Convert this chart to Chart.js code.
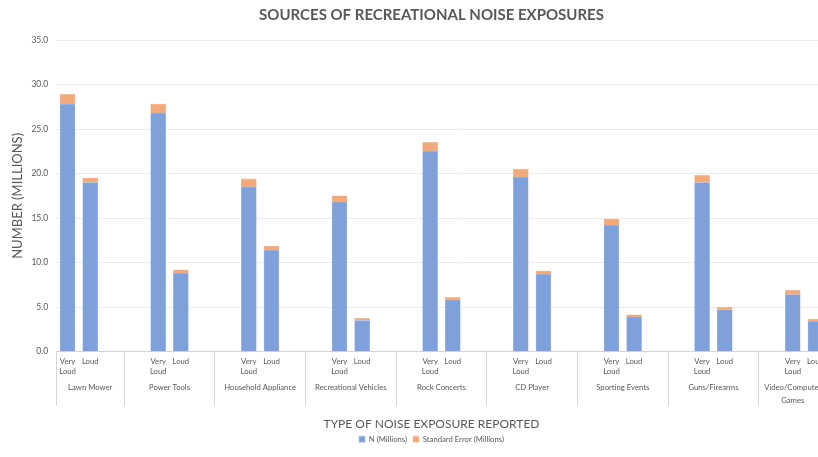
<!DOCTYPE html>
<html>
<head>
<meta charset="utf-8">
<script src="https://cdn.jsdelivr.net/npm/chart.js@4.4.1/dist/chart.umd.min.js"></script>
<style>
  html, body { margin: 0; padding: 0; background: #ffffff; overflow: hidden; }
  #wrap { position: relative; width: 863px; height: 457px; }
</style>
</head>
<body>
<div id="wrap"><canvas id="c"></canvas></div>
<script>
// ---- data ----
const groups = ['Lawn Mower', 'Power Tools', 'Household Appliance', 'Recreational Vehicles',
  'Rock Concerts', 'CD Player', 'Sporting Events', 'Guns/Firearms', ['Video/Computer', 'Games']];
const levelLabels = [['Very', 'Loud'], ['Loud']];
const veryLoudN  = [27.8, 26.8, 18.5, 16.8, 22.5, 19.6, 14.2, 19.0, 6.4];
const veryLoudSE = [1.1, 1.0, 0.9, 0.7, 1.0, 0.9, 0.7, 0.8, 0.5];
const loudN      = [19.0, 8.8, 11.4, 3.5, 5.8, 8.7, 3.9, 4.7, 3.4];
const loudSE     = [0.5, 0.4, 0.45, 0.25, 0.3, 0.35, 0.25, 0.3, 0.25];
const seriesNames = ['N (Millions)', 'Standard Error (Millions)'];
const yTicks = [0, 5, 10, 15, 20, 25, 30, 35];

// ---- layout of category slots (Excel multi-level axis with blank rows) ----
const lastG = groups.length - 1;
const slotVL = g => 4 * g;
const slotL  = g => 4 * g + 1;
const groupStart = g => (g === 0 ? 0 : 4 * g - 1);
const groupEnd   = g => (g === lastG ? 4 * g + 2 : 4 * g + 3);
const groupCenter = g => (groupStart(g) + groupEnd(g)) / 2;

function buildPoints(vl, l) {
  const pts = [];
  groups.forEach((_, g) => {
    pts.push({ x: slotVL(g) + 0.5, y: vl[g] });
    pts.push({ x: slotL(g) + 0.5, y: l[g] });
  });
  return pts;
}

const xTickList = [];
const boundaries = new Set();
groups.forEach((name, g) => {
  boundaries.add(groupStart(g));
  boundaries.add(groupEnd(g));
});
[...boundaries].forEach(v => xTickList.push({ value: v, label: '', kind: 'sep' }));
groups.forEach((name, g) => {
  xTickList.push({ value: slotVL(g) + 0.5, label: levelLabels[0], kind: 'level' });
  xTickList.push({ value: slotL(g) + 0.5, label: levelLabels[1], kind: 'level' });
  const nm = Array.isArray(name) ? name : [name];
  xTickList.push({ value: groupCenter(g), label: ['', ''].concat(nm), kind: 'group' });
});
xTickList.sort((a, b) => a.value - b.value || (a.kind === 'sep' ? -1 : 1));
// trailing empty tick keeps the last label from reserving right padding
xTickList.push({ value: 35.6, label: '', kind: 'end' });

const textGrey = '#595959';
const FONT = 'Lato, "Open Sans", sans-serif';

new Chart(document.getElementById('c'), {
  type: 'bar',
  data: {
    datasets: [
      { label: seriesNames[0], data: buildPoints(veryLoudN, loudN),
        backgroundColor: '#7ea1db', borderColor: '#a9c0e8', borderWidth: 0.6, barThickness: 15 },
      { label: seriesNames[1], data: buildPoints(veryLoudSE, loudSE),
        backgroundColor: '#f4a97a', borderColor: '#f7c3a2', borderWidth: 0.6, barThickness: 15 }
    ]
  },
  options: {
    responsive: true,
    maintainAspectRatio: false,
    animation: false,
    layout: { padding: { left: 0, right: 0, top: 0, bottom: 4 } },
    plugins: {
      title: {
        display: true,
        text: 'SOURCES OF RECREATIONAL NOISE EXPOSURES',
        color: textGrey,
        font: { family: FONT, size: 15, weight: 'bold' },
        padding: { top: 6, bottom: 16 }
      },
      legend: {
        position: 'bottom',
        title: {
          display: true,
          text: 'TYPE OF NOISE EXPOSURE REPORTED',
          color: textGrey,
          font: { family: FONT, size: 12 },
          padding: { top: 0, bottom: -3.4 }
        },
        labels: {
          color: textGrey,
          font: { family: FONT, size: 7.7 },
          boxWidth: 6, boxHeight: 6,
          padding: 6
        }
      },
      tooltip: { enabled: false }
    },
    scales: {
      x: {
        type: 'linear',
        stacked: true,
        offset: false,
        min: 0,
        max: 35.6,
        afterBuildTicks: s => { s.ticks = xTickList.map(t => ({ value: t.value })); },
        afterFit: s => { s.height = 66.6; },
        border: { display: true, color: '#d4d4d4', width: 1 },
        grid: {
          offset: false,
          drawOnChartArea: false,
          drawTicks: true,
          tickLength: 54,
          color: ctx => (xTickList[ctx.index] && xTickList[ctx.index].kind === 'sep') ? '#d4d4d4' : 'rgba(0,0,0,0)',
          lineWidth: 1
        },
        ticks: {
          autoSkip: false,
          maxRotation: 0,
          minRotation: 0,
          padding: -49.5,
          color: textGrey,
          callback: (v, i) => xTickList[i] ? xTickList[i].label : '',
          font: ctx => {
            const t = xTickList[ctx.index];
            return { family: FONT, size: 7.7, lineHeight: (t && t.kind === 'group') ? 12.6 / 7.7 : 10.3 / 7.7 };
          }
        }
      },
      y: {
        stacked: true,
        min: 0,
        max: 35,
        afterBuildTicks: s => { s.ticks = yTicks.map(v => ({ value: v })); },
        afterFit: s => { s.width = 56.2; },
        border: { display: false },
        grid: { color: '#ececec', drawTicks: false, lineWidth: 1 },
        ticks: {
          padding: 8,
          color: textGrey,
          font: { family: FONT, size: 8.5 },
          callback: v => Number(v).toFixed(1)
        },
        title: {
          display: true,
          text: 'NUMBER (MILLIONS)',
          color: textGrey,
          font: { family: FONT, size: 13 },
          padding: { top: 10, bottom: 0 }
        }
      }
    }
  }
});
</script>
</body>
</html>
